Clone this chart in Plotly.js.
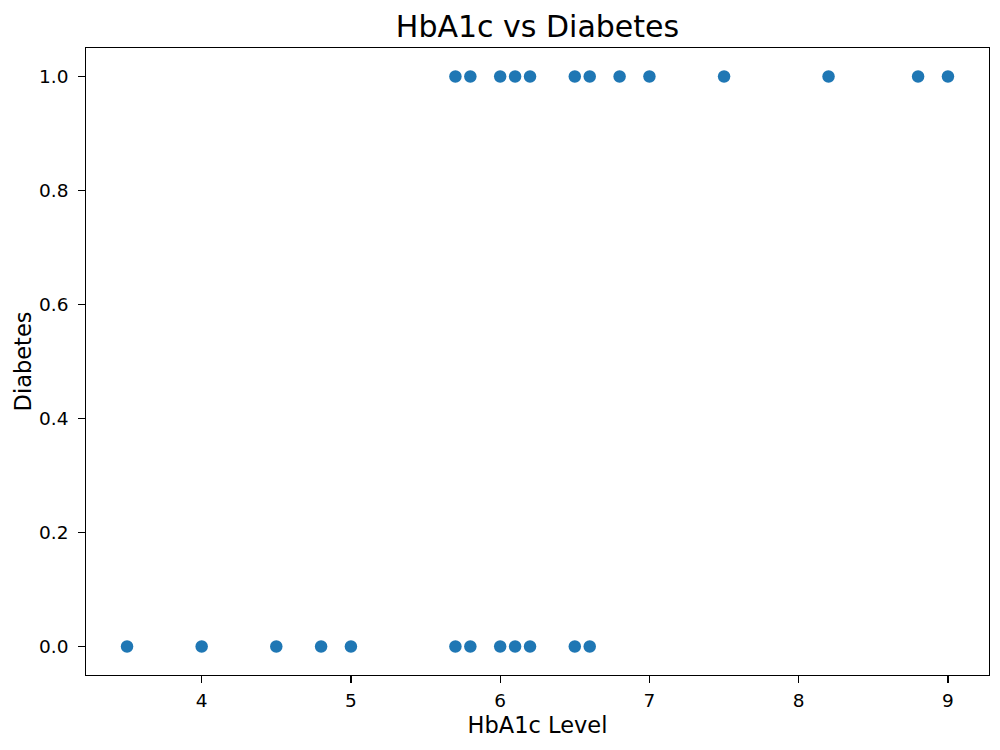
<!DOCTYPE html>
<html>
<head>
<meta charset="utf-8">
<script src="https://cdn.plot.ly/plotly-3.0.1.min.js"></script>
<style>html,body{margin:0;padding:0;background:#fff;}#chart{width:1000px;height:750px;}</style>
</head>
<body>
<div id="chart"></div>
<script>
const hba1c = [5.7, 5.8, 6.0, 6.1, 6.2, 6.5, 6.6, 6.8, 7.0, 7.5, 8.2, 8.8, 9.0,
               3.5, 4.0, 4.5, 4.8, 5.0, 5.7, 5.8, 6.0, 6.1, 6.2, 6.5, 6.6];
const diabetes = [1, 1, 1, 1, 1, 1, 1, 1, 1, 1, 1, 1, 1,
                  0, 0, 0, 0, 0, 0, 0, 0, 0, 0, 0, 0];
const xTicks = [4, 5, 6, 7, 8, 9];
const yTicks = [0, 0.2, 0.4, 0.6, 0.8, 1.0];
const yTickText = yTicks.map(v => v.toFixed(1));

const font = "DejaVu Sans, sans-serif";
const trace = {
  x: hba1c, y: diabetes, type: 'scatter', mode: 'markers',
  marker: {color: '#1f77b4', size: 12.5, line: {width: 0}},
  hoverinfo: 'x+y'
};
const axisCommon = {
  showgrid: false, zeroline: false, showline: true, linecolor: '#000', linewidth: 1.3,
  mirror: true, ticks: 'outside', ticklen: 6.5, tickwidth: 1.3, tickcolor: '#000',
  tickfont: {family: font, size: 18.5, color: '#000'}
};
const layout = {
  width: 1000, height: 750,
  margin: {l: 86, r: 11, t: 48, b: 75},
  paper_bgcolor: '#fff', plot_bgcolor: '#fff',
  title: {text: 'HbA1c vs Diabetes', font: {family: font, size: 30, color: '#000'}, xref: 'paper', x: 0.5, xanchor: 'center', y: 0.965, yanchor: 'middle'},
  xaxis: Object.assign({}, axisCommon, {
    range: [3.225, 9.275], tickvals: xTicks, ticktext: xTicks.map(String), automargin: false,
    ticklabelstandoff: 2,
    title: {text: 'HbA1c Level', font: {family: font, size: 22.5, color: '#000'}, standoff: 7}
  }),
  yaxis: Object.assign({}, axisCommon, {
    range: [-0.05, 1.05], tickvals: yTicks, ticktext: yTickText, automargin: false,
    ticklabelstandoff: 6,
    title: {text: 'Diabetes', font: {family: font, size: 22.5, color: '#000'}, standoff: 1}
  }),
  showlegend: false
};
Plotly.newPlot('chart', [trace], layout, {displayModeBar: false, staticPlot: true});
</script>
</body>
</html>
